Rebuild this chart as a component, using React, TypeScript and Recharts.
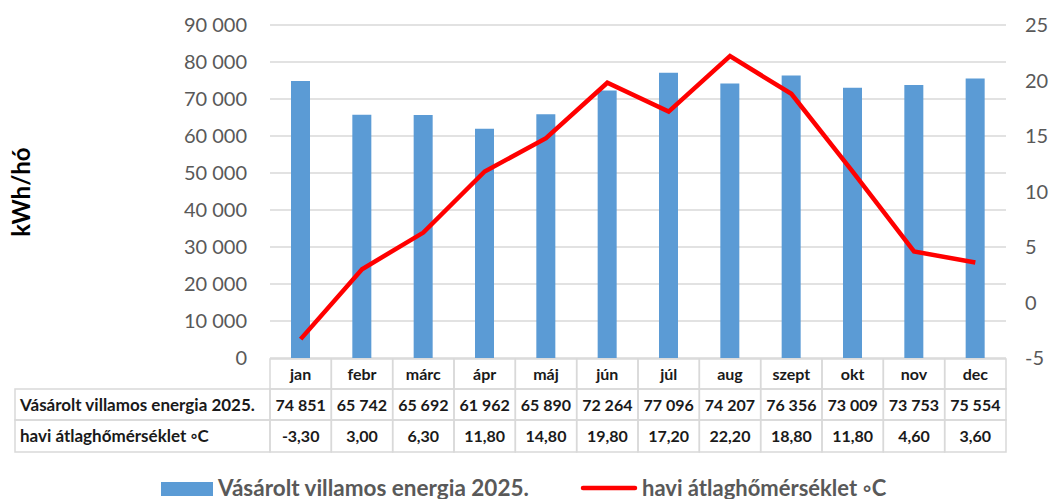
import {
  Bar,
  CartesianGrid,
  ComposedChart,
  Legend,
  Line,
  XAxis,
  YAxis,
} from "recharts";

const months = ["jan", "febr", "márc", "ápr", "máj", "jún", "júl", "aug", "szept", "okt", "nov", "dec"];
const energy = [74851, 65742, 65692, 61962, 65890, 72264, 77096, 74207, 76356, 73009, 73753, 75554];
const temps = [-3.3, 3.0, 6.3, 11.8, 14.8, 19.8, 17.2, 22.2, 18.8, 11.8, 4.6, 3.6];
const energyName = "Vásárolt villamos energia 2025.";
const tempName = "havi átlaghőmérséklet ◦C";
const leftTicks = [0, 10000, 20000, 30000, 40000, 50000, 60000, 70000, 80000, 90000];
const rightTicks = [-5, 0, 5, 10, 15, 20, 25];

const data = months.map((m, i) => ({ month: m, energy: energy[i], temp: temps[i] }));

const W = 1054;
const H = 499;
const PLOT_LEFT = 270;
const PLOT_RIGHT = 1006;
const PLOT_TOP = 25;
const PLOT_BOTTOM = 358;
const TABLE_LEFT = 15;
const COL_W = (PLOT_RIGHT - PLOT_LEFT) / months.length;
const ROWS = [
  [PLOT_BOTTOM + 1, PLOT_BOTTOM + 31],
  [PLOT_BOTTOM + 31, PLOT_BOTTOM + 62],
  [PLOT_BOTTOM + 62, PLOT_BOTTOM + 94],
];
const BORDER = "#d9d9d9";
const FONT = "Lato, 'Open Sans', sans-serif";

const fmtThousands = (v: number) => String(v).replace(/\B(?=(\d{3})+(?!\d))/g, " ");
const fmtTemp = (v: number) => v.toFixed(2).replace(".", ",");

function TableTick(props: any) {
  const { x, payload } = props;
  const i = payload.index;
  const left = x - COL_W / 2;
  const cells = [payload.value, fmtThousands(energy[i]), fmtTemp(temps[i])];
  return (
    <g>
      {i === 0 &&
        [energyName, tempName].map((name, r) => (
          <g key={name}>
            <rect
              x={TABLE_LEFT}
              y={ROWS[r + 1][0]}
              width={left - TABLE_LEFT}
              height={ROWS[r + 1][1] - ROWS[r + 1][0]}
              fill="none"
              stroke={BORDER}
              strokeWidth={1.5}
            />
            <text
              x={TABLE_LEFT + 5}
              y={(ROWS[r + 1][0] + ROWS[r + 1][1]) / 2 + 6}
              fontSize={17}
              fontWeight={700}
              fill="#1a1a1a"
              fontFamily={FONT}
            >
              {name}
            </text>
          </g>
        ))}
      {cells.map((c, r) => (
        <g key={r}>
          <rect
            x={left}
            y={ROWS[r][0]}
            width={COL_W}
            height={ROWS[r][1] - ROWS[r][0]}
            fill="none"
            stroke={BORDER}
            strokeWidth={1.5}
          />
          <text
            x={x}
            y={(ROWS[r][0] + ROWS[r][1]) / 2 + 6}
            textAnchor="middle"
            fontSize={16}
            fontWeight={700}
            fill="#1a1a1a"
            fontFamily={FONT}
          >
            {c}
          </text>
        </g>
      ))}
    </g>
  );
}

function LegendContent() {
  return (
    <svg width={W} height={34} style={{ display: "block", overflow: "visible" }}>
      <rect x={161} y={17} width={52} height={14} fill="#5b9bd5" />
      <text x={218} y={31} fontSize={22.5} fontWeight={700} fill="#595959" fontFamily={FONT}>
        {energyName}
      </text>
      <line x1={583} x2={635} y1={23} y2={23} stroke="#ff0000" strokeWidth={4.5} strokeLinecap="round" />
      <text x={642} y={31} fontSize={22} fontWeight={700} fill="#595959" fontFamily={FONT}>
        {tempName}
      </text>
    </svg>
  );
}

export default function App() {
  return (
    <div
      style={{
        position: "absolute",
        left: 0,
        top: 0,
        width: W,
        height: H,
        fontFamily: FONT,
        background: "#fff",
      }}
    >
      <ComposedChart
        width={W}
        height={H}
        data={data}
        margin={{ top: PLOT_TOP, right: 0, bottom: 0, left: 0 }}
      >
        <CartesianGrid
          yAxisId="left"
          vertical={false}
          stroke={BORDER}
          strokeWidth={1.5}
        />
        <XAxis
          dataKey="month"
          height={H - PLOT_BOTTOM}
          axisLine={false}
          tickLine={false}
          tickSize={0}
          tickMargin={0}
          interval={0}
          tick={<TableTick />}
        />
        <YAxis
          yAxisId="left"
          width={PLOT_LEFT}
          domain={[0, 90000]}
          ticks={leftTicks}
          tickFormatter={fmtThousands}
          axisLine={false}
          tickLine={false}
          tickSize={0}
          tickMargin={23}
          tick={{ fill: "#595959", fontSize: 20, fontFamily: FONT }}
          label={{
            content: () => (
              <text
                x={30}
                y={192}
                transform="rotate(-90 30 192)"
                textAnchor="middle"
                fontSize={24}
                fontWeight={700}
                fill="#000"
                fontFamily={FONT}
              >
                kWh/hó
              </text>
            ),
          }}
        />
        <YAxis
          yAxisId="right"
          orientation="right"
          width={W - PLOT_RIGHT}
          domain={[-5, 25]}
          ticks={rightTicks}
          axisLine={false}
          tickLine={false}
          tickSize={0}
          tickMargin={19}
          tick={{ fill: "#595959", fontSize: 20, fontFamily: FONT, textAnchor: "start" }}
        />
        <Legend
          verticalAlign="middle"
          align="center"
          layout="horizontal"
          wrapperStyle={{ top: 465, left: 0, width: W }}
          content={<LegendContent />}
        />
        <Bar
          yAxisId="left"
          dataKey="energy"
          name={energyName}
          fill="#5b9bd5"
          barSize={19}
          isAnimationActive={false}
        />
        <Line
          yAxisId="right"
          dataKey="temp"
          name={tempName}
          type="linear"
          stroke="#ff0000"
          strokeWidth={4.5}
          dot={false}
          activeDot={false}
          isAnimationActive={false}
        />
      </ComposedChart>
    </div>
  );
}
